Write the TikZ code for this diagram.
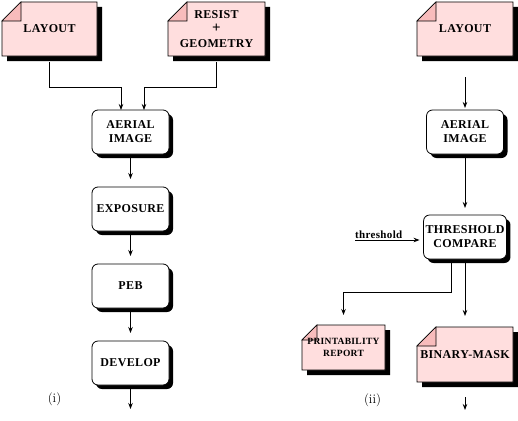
\documentclass[tikz,border=0pt]{standalone}
\usepackage{fontspec}
\newfontfamily\figfont[LetterSpace=3]{Liberation Serif}
\usetikzlibrary{arrows.meta}
\usetikzlibrary{positioning}
\usetikzlibrary{shadows}
\usetikzlibrary{backgrounds}
\definecolor{docpink}{RGB}{255,222,222}
\definecolor{foldpink}{RGB}{248,188,188}
\tikzstyle{process} = [rectangle, rounded corners=6pt, draw, line width=0.8pt, fill=white, drop shadow={shadow xshift=4pt, shadow yshift=-4pt, fill=black, opacity=1}, minimum width=77pt, minimum height=44pt, inner sep=2pt, align=center, font=\figfont\bfseries\fontsize{12}{14}\selectfont, outer sep=0pt]
\tikzstyle{docnode} = [rectangle, minimum width=96pt, minimum height=54pt, align=center, font=\figfont\bfseries\fontsize{12}{14.5}\selectfont, outer sep=0pt, inner sep=0pt]
\tikzstyle{docbody} = [draw, line width=0.8pt, fill=docpink, drop shadow={shadow xshift=5pt, shadow yshift=-5pt, fill=black, opacity=1}]
\tikzstyle{docfold} = [draw, line width=0.6pt, fill=foldpink]
\tikzstyle{arrow} = [line width=0.8pt, -{Stealth[length=6pt,width=4.5pt]}]
\newcommand{\docshape}[2]{%
  \path[docbody] ([yshift=-#2]#1.north west) -- ([xshift=#2]#1.north west)
    -- (#1.north east) -- (#1.south east) -- (#1.south west) -- cycle;
  \path[docfold] ([yshift=-#2]#1.north west) -- ([xshift=#2]#1.north west)
    -- ([xshift=#2,yshift=-#2]#1.north west) -- cycle;
}

\begin{document}
\begin{tikzpicture}[x=1pt,y=-1pt]
\useasboundingbox (0,0) rectangle (518,420);
% (i)
\node[docnode, minimum width=95pt] (layoutL) at (49.5,29) {LAYOUT};
\node[docnode, minimum width=97pt] (resist) at (216.5,29) {RESIST\\{\fontsize{15}{14.5}\selectfont +}\\GEOMETRY};
\node[process] (aerialL) at (130.5,132) {AERIAL\\IMAGE};
\node[process, below=33pt of aerialL] (exposure) {EXPOSURE};
\node[process, below=33pt of exposure] (peb) {PEB};
\node[process, below=33pt of peb] (develop) {DEVELOP};
\coordinate (endL) at (130.5,409);
\node[font=\fontsize{13}{14}\selectfont] (labelI) at (54.5,399) {(i)};
% (ii)
\node[docnode] (layoutR) at (465,29) {LAYOUT};
\node[process] (aerialR) at (465,132) {AERIAL\\IMAGE};
\node[process, below=61pt of aerialR] (compare) {THRESHOLD\\COMPARE};
\coordinate (thin) at (355,240);
\node[anchor=south west, inner sep=0pt, yshift=1pt, font=\figfont\bfseries\fontsize{11}{13}\selectfont] (thlabel) at (thin) {threshold};
\node[docnode, minimum width=83pt, minimum height=45pt, font=\figfont\bfseries\fontsize{9.5}{12}\selectfont] (report) at (343.5,347.5) {PRINTABILITY\\REPORT};
\node[docnode, minimum height=55pt] (binary) at (465,354.5) {BINARY-MASK};
\coordinate (endR) at (465,410);
\node[font=\fontsize{13}{14}\selectfont] (labelII) at (372.5,400) {(ii)};

\begin{scope}[on background layer]
\docshape{layoutL}{19pt}
\docshape{resist}{19pt}
\docshape{layoutR}{19pt}
\docshape{report}{15pt}
\docshape{binary}{19pt}
\end{scope}

\draw[arrow, shorten <=6pt] (layoutL.south) -- ++(0,31) -| ([xshift=-9.5pt]aerialL.north);
\draw[arrow, shorten <=6pt] (resist.south) -- ++(0,31) -| ([xshift=13.5pt]aerialL.north);
\draw[arrow, shorten <=4pt, shorten >=8pt] (aerialL) -- (exposure);
\draw[arrow, shorten <=4pt, shorten >=8pt] (exposure) -- (peb);
\draw[arrow, shorten <=4pt, shorten >=8pt] (peb) -- (develop);
\draw[arrow, shorten <=4pt] (develop) -- (endL);

\draw[arrow, shorten <=21pt, shorten >=2pt] (layoutR) -- (aerialR);
\draw[arrow, shorten <=4pt, shorten >=7pt] (aerialR) -- (compare);
\draw[arrow, shorten >=4pt] (thin) -- (thin -| compare.west);
\draw[arrow, shorten <=3pt, shorten >=10pt] ([xshift=-13.5pt]compare.south) -- ++(0,33) -| (report.north);
\draw[arrow, shorten <=3pt, shorten >=11pt] (compare) -- (binary);
\draw[arrow, shorten <=15pt] (binary) -- (endR);
\end{tikzpicture}
\end{document}
